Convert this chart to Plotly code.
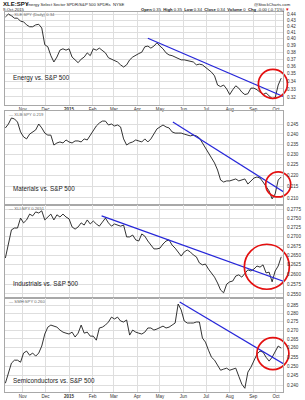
import numpy as np
import plotly.graph_objects as go

# ---------------- data ----------------
dates = ["2014-10-09","2014-10-13","2014-10-17","2014-10-21","2014-10-25","2014-10-29",
"2014-11-02","2014-11-06","2014-11-10","2014-11-14","2014-11-18","2014-11-22","2014-11-26","2014-11-30",
"2014-12-04","2014-12-08","2014-12-12","2014-12-16","2014-12-20","2014-12-24","2014-12-28",
"2015-01-01","2015-01-05","2015-01-09","2015-01-13","2015-01-17","2015-01-21","2015-01-25","2015-01-29",
"2015-02-02","2015-02-06","2015-02-10","2015-02-14","2015-02-18","2015-02-22","2015-02-26",
"2015-03-02","2015-03-06","2015-03-10","2015-03-14","2015-03-18","2015-03-22","2015-03-26","2015-03-30",
"2015-04-03","2015-04-07","2015-04-11","2015-04-15","2015-04-19","2015-04-23","2015-04-27",
"2015-05-01","2015-05-05","2015-05-09","2015-05-13","2015-05-17","2015-05-21","2015-05-25","2015-05-29",
"2015-06-02","2015-06-06","2015-06-10","2015-06-14","2015-06-18","2015-06-22","2015-06-26","2015-06-30",
"2015-07-04","2015-07-08","2015-07-12","2015-07-16","2015-07-20","2015-07-24","2015-07-28",
"2015-08-01","2015-08-05","2015-08-09","2015-08-13","2015-08-17","2015-08-21","2015-08-25","2015-08-29",
"2015-09-02","2015-09-06","2015-09-10","2015-09-14","2015-09-18","2015-09-22","2015-09-26","2015-09-30",
"2015-10-04","2015-10-08"]

energy = [0.435,0.440,0.437,0.433,0.433,0.428,
0.427,0.422,0.419,0.419,0.422,0.423,0.417,0.391,
0.388,0.375,0.366,0.373,0.383,0.385,0.383,
0.385,0.373,0.369,0.365,0.370,0.373,0.379,0.375,
0.385,0.383,0.386,0.383,0.379,0.372,0.370,
0.369,0.366,0.362,0.359,0.362,0.369,0.373,0.376,
0.378,0.380,0.388,0.389,0.386,0.389,0.394,
0.389,0.385,0.379,0.376,0.375,0.373,0.372,0.369,
0.369,0.368,0.366,0.366,0.362,0.363,0.362,0.359,
0.356,0.352,0.347,0.335,0.333,0.335,0.330,
0.323,0.329,0.334,0.331,0.326,0.323,0.324,0.331,
0.331,0.329,0.326,0.323,0.325,0.321,0.318,0.319,
0.335,0.344]

materials = [0.2430,0.2450,0.2481,0.2476,0.2460,0.2410,
0.2385,0.2375,0.2399,0.2410,0.2420,0.2450,0.2430,0.2404,
0.2394,0.2394,0.2345,0.2355,0.2360,0.2355,0.2370,
0.2360,0.2355,0.2365,0.2365,0.2360,0.2375,0.2370,0.2394,
0.2415,0.2440,0.2455,0.2465,0.2465,0.2445,0.2450,
0.2440,0.2445,0.2435,0.2375,0.2345,0.2355,0.2360,0.2370,
0.2365,0.2360,0.2375,0.2360,0.2375,0.2399,0.2425,
0.2435,0.2445,0.2435,0.2430,0.2410,0.2404,0.2404,0.2404,
0.2399,0.2394,0.2390,0.2394,0.2390,0.2380,0.2355,0.2331,
0.2302,0.2283,0.2259,0.2226,0.2180,0.2171,0.2176,
0.2176,0.2180,0.2185,0.2176,0.2180,0.2185,0.2162,0.2176,
0.2189,0.2194,0.2189,0.2171,0.2153,0.2131,0.2096,0.2118,
0.2180,0.2194]

industrials = [0.2643,0.2677,0.2718,0.2723,0.2723,0.2750,
0.2737,0.2745,0.2761,0.2756,0.2767,0.2764,0.2770,0.2745,
0.2753,0.2761,0.2745,0.2759,0.2753,0.2761,0.2753,
0.2748,0.2726,0.2720,0.2726,0.2737,0.2731,0.2745,0.2734,
0.2742,0.2734,0.2728,0.2739,0.2750,0.2737,0.2728,
0.2734,0.2731,0.2728,0.2731,0.2699,0.2699,0.2704,0.2691,
0.2688,0.2707,0.2701,0.2688,0.2677,0.2667,0.2667,
0.2669,0.2680,0.2688,0.2691,0.2677,0.2669,0.2659,0.2648,
0.2659,0.2664,0.2659,0.2651,0.2646,0.2630,0.2625,0.2627,
0.2614,0.2604,0.2593,0.2578,0.2560,0.2553,0.2575,
0.2581,0.2583,0.2596,0.2599,0.2593,0.2604,0.2612,0.2609,
0.2614,0.2622,0.2619,0.2625,0.2604,0.2606,0.2581,0.2609,
0.2622,0.2646]

semis = [0.2410,0.2468,0.2516,0.2532,0.2532,0.2521,
0.2571,0.2582,0.2559,0.2571,0.2554,0.2571,0.2610,0.2678,
0.2718,0.2730,0.2724,0.2718,0.2701,0.2689,0.2683,
0.2678,0.2689,0.2661,0.2683,0.2730,0.2683,0.2689,0.2666,
0.2666,0.2643,0.2713,0.2718,0.2730,0.2748,0.2777,
0.2766,0.2777,0.2754,0.2748,0.2760,0.2672,0.2701,0.2689,
0.2683,0.2678,0.2689,0.2713,0.2713,0.2701,0.2707,
0.2718,0.2724,0.2713,0.2718,0.2730,0.2742,0.2856,0.2820,
0.2754,0.2742,0.2742,0.2742,0.2748,0.2748,0.2655,0.2632,
0.2587,0.2548,0.2532,0.2505,0.2478,0.2484,0.2489,
0.2478,0.2484,0.2489,0.2446,0.2405,0.2384,0.2468,0.2494,
0.2527,0.2565,0.2582,0.2576,0.2548,0.2527,0.2548,0.2582,
0.2610,0.2598]

# trend lines (start / end)
energy_trend_x = ["2015-04-15", "2015-10-15"]
energy_trend_y = [0.401, 0.319]
materials_trend_x = ["2015-05-18", "2015-10-13"]
materials_trend_y = [0.2460, 0.2123]
industrials_trend_x = ["2015-02-13", "2015-10-13"]
industrials_trend_y = [0.2756, 0.2581]
semis_trend_x = ["2015-05-27", "2015-10-14"]
semis_trend_y = [0.2868, 0.2505]

# highlighted breakout areas (centre date, centre value)
circle_x = ["2015-09-27", "2015-10-04", "2015-09-19", "2015-09-27"]
circle_y = [0.3365, 0.2160, 0.2620, 0.2568]

# axis ticks
month_ticks = ["2014-11-01","2014-12-01","2015-01-01","2015-02-01","2015-03-01","2015-04-01",
               "2015-05-01","2015-06-01","2015-07-01","2015-08-01","2015-09-01","2015-10-01"]
month_labels = ["Nov","Dec","<b>2015</b>","Feb","Mar","Apr","May","Jun","Jul","Aug","Sep","Oct"]

energy_ticks = [0.32,0.33,0.34,0.35,0.36,0.37,0.38,0.39,0.40,0.41,0.42,0.43,0.44]
energy_tick_labels = ["0.32","0.33","0.34","0.35","0.36","0.37","0.38","0.39","0.40","0.41","0.42","0.43","0.44"]
materials_ticks = [0.210,0.215,0.220,0.225,0.230,0.235,0.240,0.245]
materials_tick_labels = ["0.210","0.215","0.220","0.225","0.230","0.235","0.240","0.245"]
industrials_ticks = [0.2550,0.2575,0.2600,0.2625,0.2650,0.2675,0.2700,0.2725,0.2750,0.2775]
industrials_tick_labels = ["0.2550","0.2575","0.2600","0.2625","0.2650","0.2675","0.2700","0.2725","0.2750","0.2775"]
semis_ticks = [0.240,0.245,0.250,0.255,0.260,0.265,0.270,0.275,0.280,0.285]
semis_tick_labels = ["0.240","0.245","0.250","0.255","0.260","0.265","0.270","0.275","0.280","0.285"]

panel_titles = ["Energy vs. S&P 500", "Materials vs. S&P 500",
                "Industrials vs. S&P 500", "Semiconductors vs. S&P 500"]
legend_texts = ["— XLE:SPY (Daily) 0.34", "— XLB:SPY 0.219", "— XLI:SPY 0.2651", "— SMH:SPY 0.260"]

# ---------------- layout helpers ----------------
W, H = 305, 400
FONT = "Liberation Sans, Arial, sans-serif"
def px_y(y):
    return 1 - y / H
def px_x(x):
    return x / W

panels = [
    dict(vals=energy, tx=energy_trend_x, ty=energy_trend_y, ticks=energy_ticks,
         labels=energy_tick_labels, rng=(0.3103, 0.4434), top=12, bot=105, circ=29,
         title_y=78, leg_y=15),
    dict(vals=materials, tx=materials_trend_x, ty=materials_trend_y, ticks=materials_ticks,
         labels=materials_tick_labels, rng=(0.20695, 0.25173), top=111, bot=205, circ=25,
         title_y=189, leg_y=114.5),
    dict(vals=industrials, tx=industrials_trend_x, ty=industrials_trend_y, ticks=industrials_ticks,
         labels=industrials_tick_labels, rng=(0.25398, 0.27861), top=205, bot=298, circ=45,
         title_y=283, leg_y=208.5),
    dict(vals=semis, tx=semis_trend_x, ty=semis_trend_y, ticks=semis_ticks,
         labels=semis_tick_labels, rng=(0.23650, 0.28932), top=298, bot=392, circ=32,
         title_y=380, leg_y=301.5),
]

fig = go.Figure()
layout = dict(width=W, height=H, margin=dict(l=0, r=0, t=0, b=0),
              paper_bgcolor="white", plot_bgcolor="white", showlegend=False,
              template="none", font=dict(family=FONT, color="#333"))
annotations = []
xdom = [px_x(5), px_x(283)]
xrange = ["2014-10-08 12:00", "2015-10-10 08:00"]
GRID = "#dedede"
BORDER = "#a8a8a8"

for i, p in enumerate(panels, start=1):
    xa = "x" if i == 1 else f"x{i}"
    ya = "y" if i == 1 else f"y{i}"
    fig.add_trace(go.Scatter(x=dates, y=p["vals"], mode="lines", xaxis=xa, yaxis=ya,
                             line=dict(color="#1c1c1c", width=0.9), hoverinfo="skip"))
    fig.add_trace(go.Scatter(x=p["tx"], y=p["ty"], mode="lines", xaxis=xa, yaxis=ya,
                             line=dict(color="#2626d9", width=1.2), hoverinfo="skip"))
    fig.add_trace(go.Scatter(x=[circle_x[i-1]], y=[circle_y[i-1]], mode="markers",
                             xaxis=xa, yaxis=ya, cliponaxis=False,
                             marker=dict(symbol="circle-open", size=p["circ"], color="#e41010",
                                         line=dict(width=1.7)), hoverinfo="skip"))
    dom = [px_y(p["bot"]), px_y(p["top"])]
    show_x = i in (1, 4)
    layout["xaxis" if i == 1 else f"xaxis{i}"] = dict(
        domain=xdom, range=xrange, type="date", anchor=ya,
        tickmode="array", tickvals=month_ticks, ticktext=month_labels,
        showticklabels=show_x, ticks="", showgrid=True, gridcolor=GRID, gridwidth=1,
        showline=True, mirror=True, linecolor=BORDER, linewidth=1, zeroline=False,
        tickfont=dict(size=4.5, color="#333", family=FONT), automargin=False,
        ticklabelstandoff=0)
    layout["yaxis" if i == 1 else f"yaxis{i}"] = dict(
        domain=dom, type="log", range=[np.log10(p["rng"][0]), np.log10(p["rng"][1])],
        anchor=xa, side="right", tickmode="array", tickvals=p["ticks"], ticktext=p["labels"],
        ticks="", showgrid=True, gridcolor=GRID, gridwidth=1,
        showline=True, mirror=True, linecolor=BORDER, linewidth=1, zeroline=False,
        tickfont=dict(size=4.6, color="#333", family=FONT), automargin=False,
        ticklabelstandoff=2)
    annotations.append(dict(text=panel_titles[i-1], xref="paper", yref="paper",
                            x=px_x(11), y=px_y(p["title_y"]), xanchor="left", yanchor="middle",
                            showarrow=False, font=dict(size=6.3, color="#222", family=FONT)))
    annotations.append(dict(text=legend_texts[i-1], xref="paper", yref="paper",
                            x=px_x(6.5), y=px_y(p["leg_y"]), xanchor="left", yanchor="middle",
                            showarrow=False, font=dict(size=4.2, color="#666", family=FONT)))

# header
annotations += [
    dict(text="<b>XLE:SPY</b>", xref="paper", yref="paper", x=px_x(1), y=px_y(4.3),
         xanchor="left", yanchor="middle", showarrow=False,
         font=dict(size=6, color="#111", family=FONT)),
    dict(text="Energy Select Sector SPDR/S&P 500 SPDRs  NYSE", xref="paper", yref="paper",
         x=px_x(24), y=px_y(4.5), xanchor="left", yanchor="middle", showarrow=False,
         font=dict(size=4.2, color="#222", family=FONT)),
    dict(text="9-Oct-2015", xref="paper", yref="paper", x=px_x(1), y=px_y(9.3),
         xanchor="left", yanchor="middle", showarrow=False,
         font=dict(size=4.2, color="#222", family=FONT)),
    dict(text="@StockCharts.com", xref="paper", yref="paper", x=px_x(293), y=px_y(4.3),
         xanchor="right", yanchor="middle", showarrow=False,
         font=dict(size=4.2, color="#222", family=FONT)),
    dict(text="<b>Open</b> 0.35  <b>High</b> 0.35  <b>Low</b> 0.34  <b>Close</b> 0.34  "
              "<b>Volume</b> 0  <b>Chg</b> -0.00 (-0.71%) <span style='color:#d00'>▼</span>",
         xref="paper", yref="paper", x=px_x(291), y=px_y(9.3),
         xanchor="right", yanchor="middle", showarrow=False,
         font=dict(size=4.2, color="#222", family=FONT)),
]
layout["annotations"] = annotations
fig.update_layout(**layout)
fig.write_html("out.html")
